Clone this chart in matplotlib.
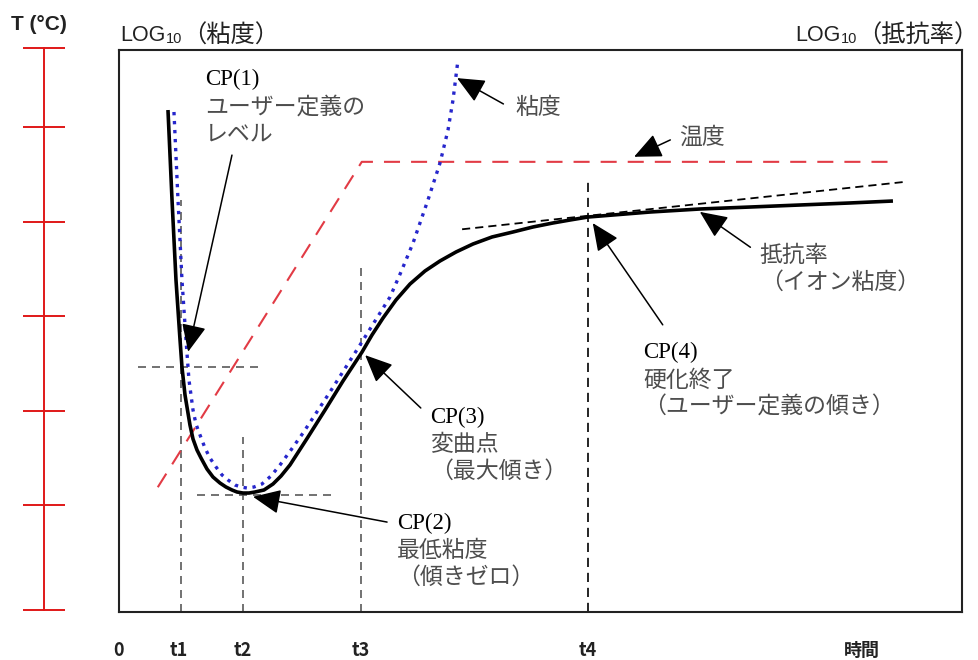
import matplotlib
matplotlib.use("Agg")
import matplotlib.pyplot as plt

plt.rcParams['font.family'] = ['Liberation Sans', 'Noto Sans CJK JP', 'DejaVu Sans']

# both axes in arbitrary units: time 0..100, signal 0..100
resist_t = [5.81, 6.29, 6.76, 7.24, 7.47, 7.83, 8.42, 8.78, 9.25, 9.73, 10.44, 11.15, 11.98,
            12.69, 13.40, 14.00, 14.71, 15.42, 16.13, 17.20, 18.27, 19.22, 20.28, 21.35,
            22.42, 24.44, 26.57, 28.83, 30.01, 31.32, 32.86, 34.52, 36.30, 38.08, 39.98,
            41.99, 44.25, 46.74, 49.11, 51.48, 53.50, 55.63, 62.99, 68.92, 74.85, 80.78,
            86.71, 91.81]
resist_v = [89.32, 73.31, 59.07, 48.40, 43.59, 38.61, 33.27, 30.78, 28.83, 27.40, 25.44, 24.02,
            22.95, 22.24, 21.71, 21.35, 21.17, 21.17, 21.35, 21.71, 22.78, 24.20, 26.16, 28.65,
            31.14, 35.94, 41.10, 46.26, 49.29, 52.31, 55.52, 58.36, 60.68, 62.46, 64.06,
            65.48, 66.73, 67.62, 68.51, 69.22, 69.75, 70.28, 71.17, 71.71, 72.06, 72.42,
            72.78, 73.13]

visc_t = [6.52, 7.00, 7.47, 7.95, 8.30, 8.78, 9.13, 9.61, 10.20, 10.79, 11.51, 12.22, 12.93,
          13.76, 14.47, 15.18, 16.01, 16.96, 18.03, 19.10, 20.40, 21.83, 25.03, 28.59, 32.15,
          33.45, 34.88, 36.65, 38.08, 39.03, 39.62, 40.21]
visc_v = [88.97, 73.31, 59.07, 48.40, 41.28, 35.94, 33.45, 31.49, 29.18, 27.40, 25.80, 24.38,
          23.49, 22.60, 22.24, 22.06, 22.24, 22.78, 24.20, 26.16, 28.83, 31.85, 39.15, 47.51,
          56.05, 60.50, 65.66, 73.31, 79.89, 85.77, 91.10, 98.22]

temp_t = [4.6, 28.8, 91.5]
temp_v = [22.2, 80.1, 80.1]

# user-defined slope at CP(4)
tangent_t = [40.7, 93.0]
tangent_v = [68.1, 76.5]

# t1..t4 and the height where each guide stops
cp_times = [7.4, 14.7, 28.7, 55.6]
cp_guide_tops = [73.3, 31.1, 61.2, 77.4]
cp1_level, cp1_span = 43.6, (2.2, 16.8)
cp2_level, cp2_span = 20.8, (9.3, 25.4)

time_ticks = [0, 7.1, 14.7, 28.7, 55.6, 88.1]
time_labels = ['0', 't1', 't2', 't3', 't4', '時間']

temp_ticks = [0, 18.7, 35.4, 52.3, 69.0, 85.9, 100]

fig = plt.figure(figsize=(9.79, 6.6), dpi=100)
ax = fig.add_axes([119 / 979, 48 / 660, 843 / 979, 562 / 660])
ax.set_xlim(0, 100)
ax.set_ylim(0, 100)
for s in ax.spines.values():
    s.set_linewidth(1.5)
    s.set_color('#222222')
ax.set_yticks([])
ax.set_xticks(time_ticks, time_labels)
ax.tick_params(axis='x', length=0, pad=21, labelsize=13)
for lab in ax.get_xticklabels():
    lab.set_family(['Liberation Sans Narrow', 'Noto Sans CJK JP'])
    lab.set_fontweight('bold')
    lab.set_color('#222222')

# guide lines
g = dict(color='#5a5a5a', lw=1.2, dashes=(4.8, 3.6))
for t, top in zip(cp_times[:3], cp_guide_tops[:3]):
    ax.plot([t, t], [0, top], **g)
ax.plot([cp_times[3], cp_times[3]], [0, cp_guide_tops[3]], color='black', lw=1.2, dashes=(5.5, 3.5))
ax.plot(cp1_span, [cp1_level, cp1_level], **g)
ax.plot(cp2_span, [cp2_level, cp2_level], **g)
ax.plot(tangent_t, tangent_v, color='black', lw=1.3, dashes=(4.5, 2.8))

# curves
ax.plot(temp_t, temp_v, color='#e23b45', lw=1.5, dashes=(7.7, 5.3))
ax.plot(resist_t, resist_v, color='black', lw=2.6, solid_capstyle='butt', solid_joinstyle='round')
ax.plot(visc_t, visc_v, color='#2626cc', lw=2.4, linestyle=(0, (1, 1.7)))

# callouts: (tip, tail)
arrow_tips = [(8.2, 46.3), (40.1, 95.0), (61.1, 81.0), (68.9, 71.2), (56.2, 69.2), (29.2, 45.7), (15.9, 20.5)]
arrow_tails = [(13.4, 81.3), (45.6, 90.4), (65.4, 84.0), (74.9, 64.9), (64.5, 51.1), (35.8, 36.3), (31.8, 16.0)]
ap = dict(arrowstyle='-|>,head_length=0.85,head_width=0.38', mutation_scale=20,
          lw=1.1, color='black', shrinkA=0, shrinkB=0)
for tip, tail in zip(arrow_tips, arrow_tails):
    ax.annotate('', xy=tip, xytext=tail, arrowprops=ap)

jp = dict(family=['Noto Sans CJK JP', 'DejaVu Sans'], color='#4d4d4d', fontsize=16.5, va='center')
cp = dict(family='Liberation Serif', color='black', fontsize=16.5, va='center')
gap = 4.85

def cp_block(x, y, head, lines):
    ax.text(x, y, head, **cp)
    for i, s in enumerate(lines):
        ax.text(x, y - (i + 1) * gap, s, **jp)

cp_block(10.2, 94.7, 'CP(1)', ['ユーザー定義の', 'レベル'])
cp_block(33.0, 15.8, 'CP(2)', ['最低粘度', '（傾きゼロ）'])
cp_block(36.9, 34.7, 'CP(3)', ['変曲点', '（最大傾き）'])
cp_block(62.2, 46.1, 'CP(4)', ['硬化終了', '（ユーザー定義の傾き）'])
ax.text(47.0, 89.7, '粘度', **jp)
ax.text(66.5, 84.5, '温度', **jp)
ax.text(76.0, 63.5, '抵抗率', **jp)
ax.text(76.0, 58.6, '（イオン粘度）', **jp)

# temperature scale on the far left
ax_t = fig.add_axes([44 / 979, 50 / 660, 0.001, 562 / 660])
ax_t.set_ylim(0, 100)
for k, s in ax_t.spines.items():
    s.set_visible(k == 'left')
ax_t.spines['left'].set_color('#e01818')
ax_t.spines['left'].set_linewidth(1.4)
ax_t.set_xticks([])
ax_t.set_yticks(temp_ticks, [''] * len(temp_ticks))
ax_t.tick_params(axis='y', direction='inout', length=30, width=1.4, color='#e01818')
ax_t.patch.set_visible(False)

fig.text(11 / 979, 1 - 25 / 660, 'T (°C)', fontsize=15, fontweight='bold', va='center', color='#222222')

def log_header(x):
    base = fig.text(x / 979, 1 - 41 / 660, 'LOG', fontsize=15.5, va='baseline', color='#222222')
    sub = ax.annotate('10', xy=(1, 0), xycoords=base, xytext=(0.5, 0), textcoords='offset points',
                      fontsize=10.5, va='bottom', ha='left', color='#222222')
    return base, sub

b1, s1 = log_header(120)
ax.annotate('（粘度）', xy=(1, 0.5), xycoords=(s1, b1), fontsize=17.5, va='center', ha='left',
            color='#222222', family=['Noto Sans CJK JP'], annotation_clip=False)
b2, s2 = log_header(795)
ax.annotate('（抵抗率）', xy=(1, 0.5), xycoords=(s2, b2), fontsize=17.5, va='center', ha='left',
            color='#222222', family=['Noto Sans CJK JP'], annotation_clip=False)

fig.savefig('out.png', dpi=100)
